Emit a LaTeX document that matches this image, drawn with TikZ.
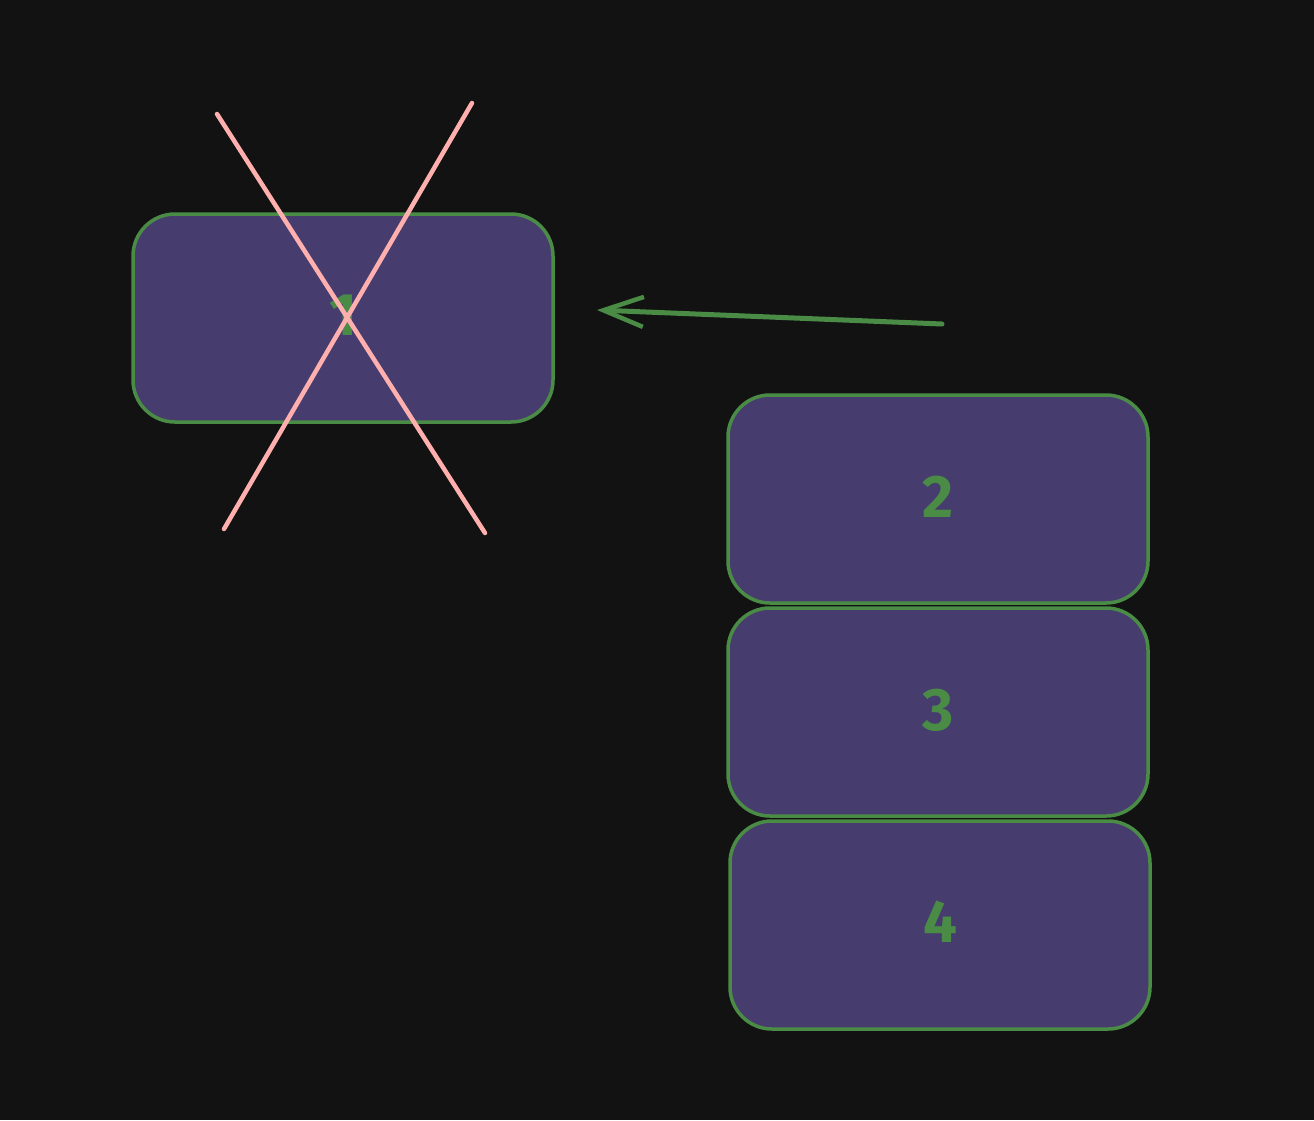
\documentclass[tikz,border=0pt]{standalone}
\usepackage{fontspec}
\setmainfont{Fira Sans}
\usetikzlibrary{arrows.meta}
\definecolor{bg}{HTML}{121212}
\definecolor{boxfill}{HTML}{463C6E}
\definecolor{boxline}{HTML}{4A8C46}
\definecolor{pinkline}{HTML}{FFB0AE}
\tikzset{
  card/.style={draw=boxline, fill=boxfill, line width=3.5pt, rounded corners=42pt,
    minimum width=420pt, minimum height=208pt, inner sep=0pt,
    text=boxline, font=\fontsize{60}{62}\selectfont\bfseries},
  cross/.style={draw=pinkline, line width=4.5pt, line cap=round},
  pointer/.style={draw=boxline, line width=5pt, line cap=round,
    -{Straight Barb[length=40pt,width=30pt,line width=4.5pt]}}
}
\begin{document}
\begin{tikzpicture}[x=1pt,y=-1pt]
\fill[bg] (0,0) rectangle (1314,1120);
\useasboundingbox (0,0) rectangle (1314,1120);
\node[card] (b1) at (343,318) {\raisebox{6pt}{1}};
\node[card] (b2) at (938,499) {\raisebox{4pt}{2}};
\node[card] (b3) at (938,712) {\raisebox{4pt}{3}};
\node[card] (b4) at (940,925) {\raisebox{6pt}{4}};
\coordinate (c1) at (217,114);
\coordinate (c2) at (485,533);
\coordinate (c3) at (472,103);
\coordinate (c4) at (224,529);
\draw[cross] (c1) -- (c2);
\draw[cross] (c3) -- (c4);
\coordinate (as) at (942,324);
\coordinate (ae) at (597,310);
\draw[pointer] (as) -- (ae);
\end{tikzpicture}
\end{document}
